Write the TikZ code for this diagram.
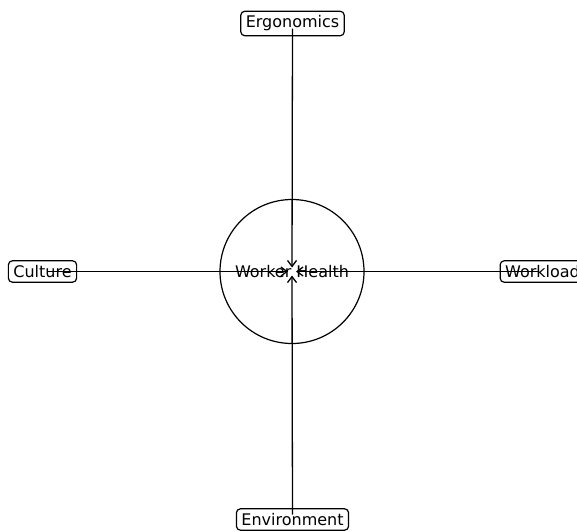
\documentclass[tikz,border=0pt]{standalone}
\usepackage{fontspec}
\setmainfont{DejaVu Sans}
\usetikzlibrary{arrows.meta}
\begin{document}
\begin{tikzpicture}[x=1pt,y=-1pt,
  lbl/.style={draw, line width=1.2pt, rounded corners=4pt, inner xsep=5pt, inner ysep=4.5pt, font=\fontsize{16}{19}\selectfont},
  ctr/.style={font=\fontsize{16}{19}\selectfont},
  link/.style={line width=1.3pt, -{Straight Barb[length=6pt,width=9pt,line width=1.3pt]}, shorten <=5pt, shorten >=4pt}]
\useasboundingbox (0,0) rectangle (577,531);
\fill[white] (0,0) rectangle (577,531);
\draw[line width=1.2pt] (292,271.5) circle (72);
\node[ctr] (wh) at (292,271.5) {Worker Health};
\node[lbl] (erg) at (292.5,23.5) {Ergonomics};
\node[lbl] (cul) at (42.5,271.5) {Culture};
\node[lbl] (wl) at (542.5,271.5) {Workload};
\node[lbl] (env) at (292.5,519.5) {Environment};
\draw[link] (erg.center) -- (wh.center);
\draw[link] (cul.center) -- (wh.center);
\draw[link] (wl.center) -- (wh.center);
\draw[link] (env.center) -- (wh.center);
\end{tikzpicture}
\end{document}
